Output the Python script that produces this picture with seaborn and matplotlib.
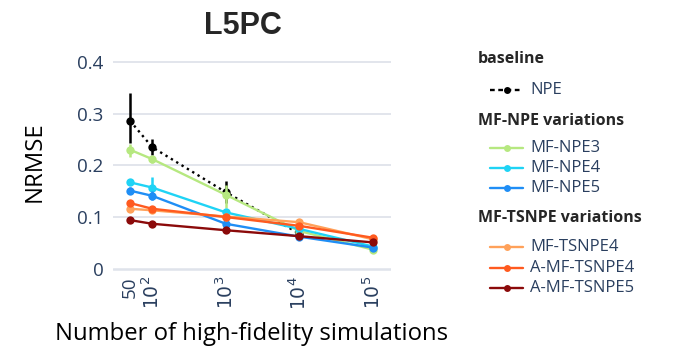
import numpy as np
import pandas as pd
import matplotlib
matplotlib.use('Agg')
import matplotlib.pyplot as plt
import seaborn as sns
from matplotlib.lines import Line2D

sns.set_style('white')
plt.rcParams['font.family'] = ['Open Sans', 'DejaVu Sans']

# data
n_sims = [50, 100, 1000, 10000, 100000]
series = ['NPE', 'MF-NPE3', 'MF-NPE4', 'MF-NPE5', 'MF-TSNPE4', 'A-MF-TSNPE4', 'A-MF-TSNPE5']
colors = ['#000000', '#b6e880', '#1fd3f5', '#1f8ef5', '#ffa15a', '#ff5a1f', '#8b0a0a']

npe = [0.286, 0.235, 0.148, 0.068, np.nan]
npe_lo = [0.243, 0.220, 0.127, 0.068, np.nan]
npe_hi = [0.340, 0.250, 0.169, 0.068, np.nan]

mfnpe3 = [0.230, 0.212, 0.143, 0.073, 0.037]
mfnpe3_lo = [0.216, 0.205, 0.117, 0.073, 0.037]
mfnpe3_hi = [0.241, 0.218, 0.162, 0.073, 0.037]

mfnpe4 = [0.167, 0.157, 0.109, 0.077, 0.043]
mfnpe4_lo = [0.162, 0.150, 0.105, 0.077, 0.043]
mfnpe4_hi = [0.172, 0.177, 0.113, 0.077, 0.043]

mfnpe5 = [0.151, 0.141, 0.087, 0.062, 0.041]
mfnpe5_lo = [0.144, 0.132, 0.084, 0.062, 0.041]
mfnpe5_hi = [0.158, 0.150, 0.090, 0.062, 0.041]

mftsnpe4 = [0.116, 0.113, 0.101, 0.090, 0.057]
amftsnpe4 = [0.127, 0.116, 0.100, 0.083, 0.060]
amftsnpe5 = [0.094, 0.087, 0.0745, 0.063, 0.051]

values = [npe, mfnpe3, mfnpe4, mfnpe5, mftsnpe4, amftsnpe4, amftsnpe5]
lows = [npe_lo, mfnpe3_lo, mfnpe4_lo, mfnpe5_lo, mftsnpe4, amftsnpe4, amftsnpe5]
highs = [npe_hi, mfnpe3_hi, mfnpe4_hi, mfnpe5_hi, mftsnpe4, amftsnpe4, amftsnpe5]

rows = []
for name, vals in zip(series, values):
    for n, v in zip(n_sims, vals):
        rows.append({'n': n, 'nrmse': v, 'method': name})
df = pd.DataFrame(rows).dropna()

fig = plt.figure(figsize=(6.98, 3.49), dpi=100)
ax = fig.add_axes([0.162, 0.221, 0.398, 0.630])

grid_c = '#dfe3eb'
for t in [0, 0.1, 0.2, 0.3, 0.4]:
    ax.axhline(t, color=grid_c, lw=1.8 if t == 0 else 1.3, zorder=0)

# draw in trace order, NPE at the bottom
for i, name in enumerate(series):
    sub = df[df['method'] == name]
    sns.lineplot(data=sub, x='n', y='nrmse', ax=ax, color=colors[i], lw=1.7,
                 linestyle=':' if name == 'NPE' else '-', marker='o',
                 markersize=6, markeredgewidth=0, zorder=3 + i * 0.1,
                 legend=False)
    vals = np.array(values[i])
    yerr = np.array([vals - np.array(lows[i]), np.array(highs[i]) - vals])
    ax.errorbar(n_sims, vals, yerr=yerr, fmt='none', ecolor=colors[i],
                elinewidth=1.8, capsize=0, zorder=3 + i * 0.1)

ax.set_xscale('log')
ax.set_xlim(10 ** 1.468, 10 ** 5.245)
ax.set_ylim(-0.006, 0.419)
ax.set_xticks(n_sims)
ax.set_xticklabels(['50', r'$10^2$', r'$10^3$', r'$10^4$', r'$10^5$'])
ax.xaxis.set_minor_locator(matplotlib.ticker.NullLocator())
ax.set_yticks([0, 0.1, 0.2, 0.3, 0.4])
ax.set_yticklabels(['0', '0.1', '0.2', '0.3', '0.4'])
ax.tick_params(axis='x', labelrotation=90, labelsize=13.5, colors='#2a3f5f', length=0, pad=3)
ax.tick_params(axis='y', labelsize=13.5, colors='#2a3f5f', length=0, pad=7)
for s in ax.spines.values():
    s.set_visible(False)
ax.set_xlabel('Number of high-fidelity simulations', fontsize=17.2, color='black', labelpad=9)
ax.set_ylabel('NRMSE', fontsize=17.2, color='black', labelpad=21.5)
fig.text(0.348, 0.925, 'L5PC', ha='center', va='center', fontsize=22, fontweight='bold',
         family=['Liberation Sans', 'DejaVu Sans'])

# grouped legend drawn by hand
def legend_entry(y_px, name):
    i = series.index(name)
    y = 1 - y_px / 349
    fig.add_artist(Line2D([490 / 698, 523 / 698], [y, y], transform=fig.transFigure,
                          color=colors[i], lw=1.7, linestyle=(0, (2, 1.5)) if name == 'NPE' else '-'))
    fig.add_artist(Line2D([506.5 / 698], [y], transform=fig.transFigure, color=colors[i],
                          marker='o', markersize=5, markeredgewidth=0, lw=0))
    fig.text(530 / 698, y, name, fontsize=12, color='#2a3f5f', va='center')

def legend_title(y_px, text):
    fig.text(478 / 698, 1 - y_px / 349, text, fontsize=11.5, fontweight='bold', va='center')

legend_title(59, 'baseline')
legend_entry(90, 'NPE')
legend_title(121, 'MF-NPE variations')
legend_entry(148, 'MF-NPE3')
legend_entry(168, 'MF-NPE4')
legend_entry(188, 'MF-NPE5')
legend_title(218, 'MF-TSNPE variations')
legend_entry(247, 'MF-TSNPE4')
legend_entry(268, 'A-MF-TSNPE4')
legend_entry(288, 'A-MF-TSNPE5')

fig.savefig('out.png', dpi=100)
